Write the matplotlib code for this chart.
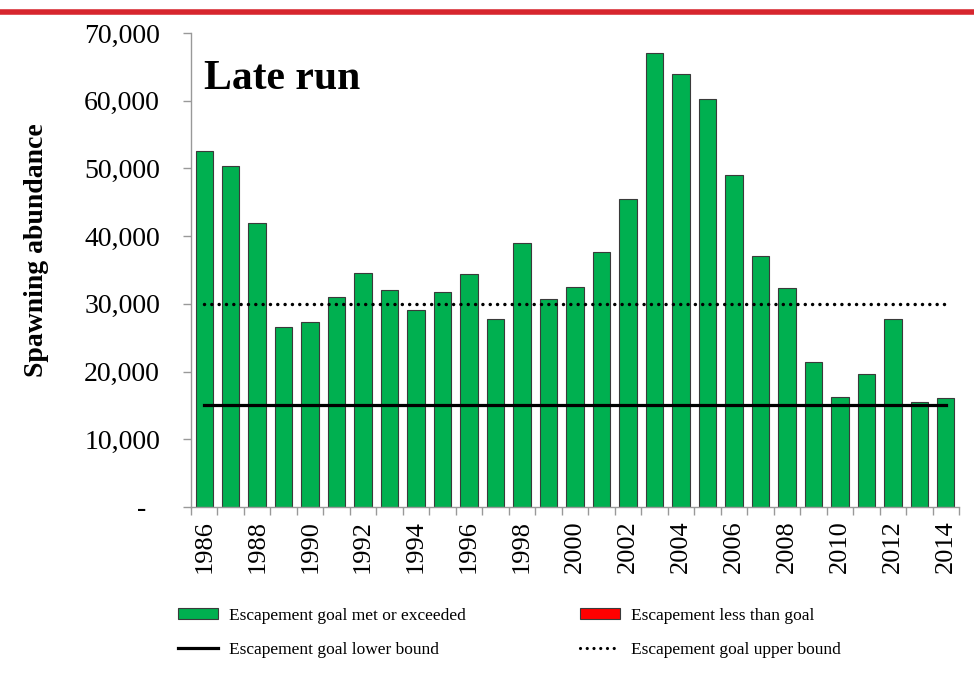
import numpy as np
import matplotlib
matplotlib.use('Agg')
import matplotlib.pyplot as plt
from matplotlib.patches import Patch
from matplotlib.lines import Line2D

plt.rcParams['font.family'] = ['Liberation Serif', 'DejaVu Serif']

# data
years = list(range(1986, 2015))
abundance = [52600, 50350, 41900, 26600, 27250, 31050, 34600, 32000, 29100, 31700,
             34350, 27750, 39050, 30650, 32500, 37600, 45500, 67000, 63900, 60200,
             49050, 37050, 32300, 21450, 16250, 19700, 27750, 15450, 16150]
lower_goal = 15000
upper_goal = 30000
ytick_vals = [0, 10000, 20000, 30000, 40000, 50000, 60000, 70000]

fig = plt.figure(figsize=(9.74, 6.76), dpi=100)
ax = fig.add_axes([191/974, 1-507/676, (959-191)/974, (507-33)/676])

x = np.arange(len(years))
ax.bar(x, abundance, width=0.66, color='#00B050', edgecolor='#3a3a3a', linewidth=0.8, zorder=2)

dots = (0, (0.01, 2.1))
ax.plot([x[0], x[-1]], [lower_goal, lower_goal], color='black', lw=2.3, zorder=3)
ax.plot([x[0], x[-1]], [upper_goal, upper_goal], color='black', lw=2.5,
        linestyle=dots, dash_capstyle='round', zorder=3)

ax.set_xlim(-0.5, len(years) - 0.5)
ax.set_ylim(0, 70000)

# x axis: labels every other year, tick marks at category boundaries
ax.set_xticks(x[::2])
ax.set_xticklabels([str(y) for y in years[::2]], rotation=90, fontsize=19)
ax.set_xticks(np.arange(-0.5, len(years), 1), minor=True)
ax.tick_params(axis='x', which='major', length=0, pad=9.5)
ax.tick_params(axis='x', which='minor', length=5.8, color='#999999', width=1)

ax.set_yticks(ytick_vals)
ax.set_yticklabels(['-  ' if v == 0 else f'{v:,}' for v in ytick_vals], fontsize=20)
ax.tick_params(axis='y', length=5.8, color='#999999', width=1, pad=16.5)

for s in ['top', 'right']:
    ax.spines[s].set_visible(False)
for s in ['left', 'bottom']:
    ax.spines[s].set_color('#999999')
    ax.spines[s].set_linewidth(1)

fig.text(37/974, 1-250/676, 'Spawning abundance', rotation=90, fontsize=20,
         fontweight='bold', ha='center', va='center')
fig.text(204/974, 1-79/676, 'Late run', fontsize=30, fontweight='bold', ha='left', va='center')

# red rule across the top
fig.add_artist(Line2D([0, 1], [1-12/676, 1-12/676], color='#D7262E', lw=4, transform=fig.transFigure))

handles = [Patch(facecolor='#00B050', edgecolor='#3a3a3a', linewidth=0.8),
           Line2D([0], [0], color='black', lw=2.3),
           Patch(facecolor='#FF0000', edgecolor='#3a3a3a', linewidth=0.8),
           Line2D([0], [0], color='black', lw=2.3, linestyle=dots, dash_capstyle='round')]
labels = ['Escapement goal met or exceeded', 'Escapement goal lower bound',
          'Escapement less than goal', 'Escapement goal upper bound']
fig.legend(handles, labels, ncol=2, loc='center', bbox_to_anchor=(0.523, 1-633/676),
           frameon=False, fontsize=12.5, handlelength=2.3, handleheight=0.6,
           handletextpad=0.6, columnspacing=6.6, labelspacing=1.05)

fig.savefig('out.png', dpi=100)
